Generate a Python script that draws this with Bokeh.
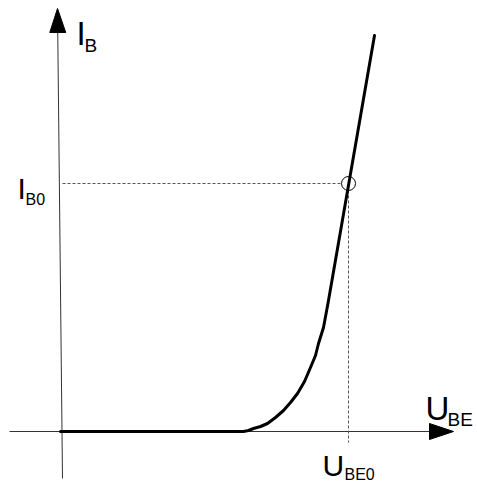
from bokeh.plotting import figure
from bokeh.models import Range1d
from bokeh.core.properties import value
from bokeh.embed import file_html
from bokeh.resources import INLINE

# Input characteristic of a transistor, drawing units (origin = axis crossing)
ube = [0, 183, 188, 193, 200, 207, 215, 223, 230, 237, 244, 250, 255, 258, 263, 268, 314]
ib = [0, 0, 1, 3, 5, 8, 14, 21, 29, 38, 50, 64, 76, 88, 104, 131, 396]

# operating point
ube0 = [288]
ib0 = [248]

# axis extents
x_axis_start, x_axis_end = -51, 393
y_axis_bottom, y_axis_top = -47, 423
y_axis_tilt = 5          # the drawn vertical axis leans slightly
head_len, head_half = 24, 8

# labels
main_labels = ["I", "U"]
sub_labels = ["B", "BE"]
op_labels = ["I", "U"]
op_sub_labels = ["B0", "BE0"]

FONT = value("Liberation Sans")

p = figure(width=477, height=484, x_range=Range1d(-60, 417), y_range=Range1d(-53, 431),
           x_axis_type=None, y_axis_type=None, toolbar_location=None,
           output_backend="svg", min_border=0, outline_line_color=None,
           background_fill_color="white", border_fill_color="white")
p.grid.visible = False

axis_color = "#333333"
# horizontal axis
p.line([x_axis_start, x_axis_end - head_len], [0, 0], line_color=axis_color, line_width=1)
p.patch([x_axis_end, x_axis_end - head_len, x_axis_end - head_len],
        [0, head_half, -head_half], fill_color="black", line_color="black")
# vertical axis (slightly tilted)
x_top = -y_axis_tilt * 0.6
x_bot = x_top + y_axis_tilt
slope = y_axis_tilt / (y_axis_top - y_axis_bottom)
x_base = x_top + slope * head_len
p.line([x_bot, x_base], [y_axis_bottom, y_axis_top - head_len], line_color=axis_color, line_width=1)
p.patch([x_top, x_base - head_half, x_base + head_half],
        [y_axis_top, y_axis_top - head_len, y_axis_top - head_len],
        fill_color="black", line_color="black")

# dashed guide lines to operating point
p.line([2, ube0[0] - 6], [ib0[0], ib0[0]], line_color="#555555", line_width=1, line_dash="3 2")
p.line([ube0[0], ube0[0]], [ib0[0] - 7, -11], line_color="#555555", line_width=1, line_dash="3 2")

# characteristic curve
p.line(ube, ib, line_color="black", line_width=3, line_join="round", line_cap="round")

# operating point marker
p.scatter(ube0, ib0, marker="circle", size=14, fill_color=None, line_color="black", line_width=1)

# axis labels
p.text(x=[16, 365], y=[398, 23], text=main_labels, text_font=FONT, text_font_size=value("33px"),
       text_baseline="alphabetic", text_align="left", text_color="black")
p.text(x=[24, 387], y=[386, 12], text=sub_labels, text_font=FONT, text_font_size=value("19px"),
       text_baseline="alphabetic", text_align="left", text_color="black")
# operating point labels
p.text(x=[-43, 262], y=[243, -34], text=op_labels, text_font=FONT, text_font_size=value("30px"),
       text_baseline="alphabetic", text_align="left", text_color="black")
p.text(x=[-35, 284], y=[232, -43], text=op_sub_labels, text_font=FONT, text_font_size=value("16px"),
       text_baseline="alphabetic", text_align="left", text_color="black")

open("out.html", "w").write(file_html(p, INLINE))
